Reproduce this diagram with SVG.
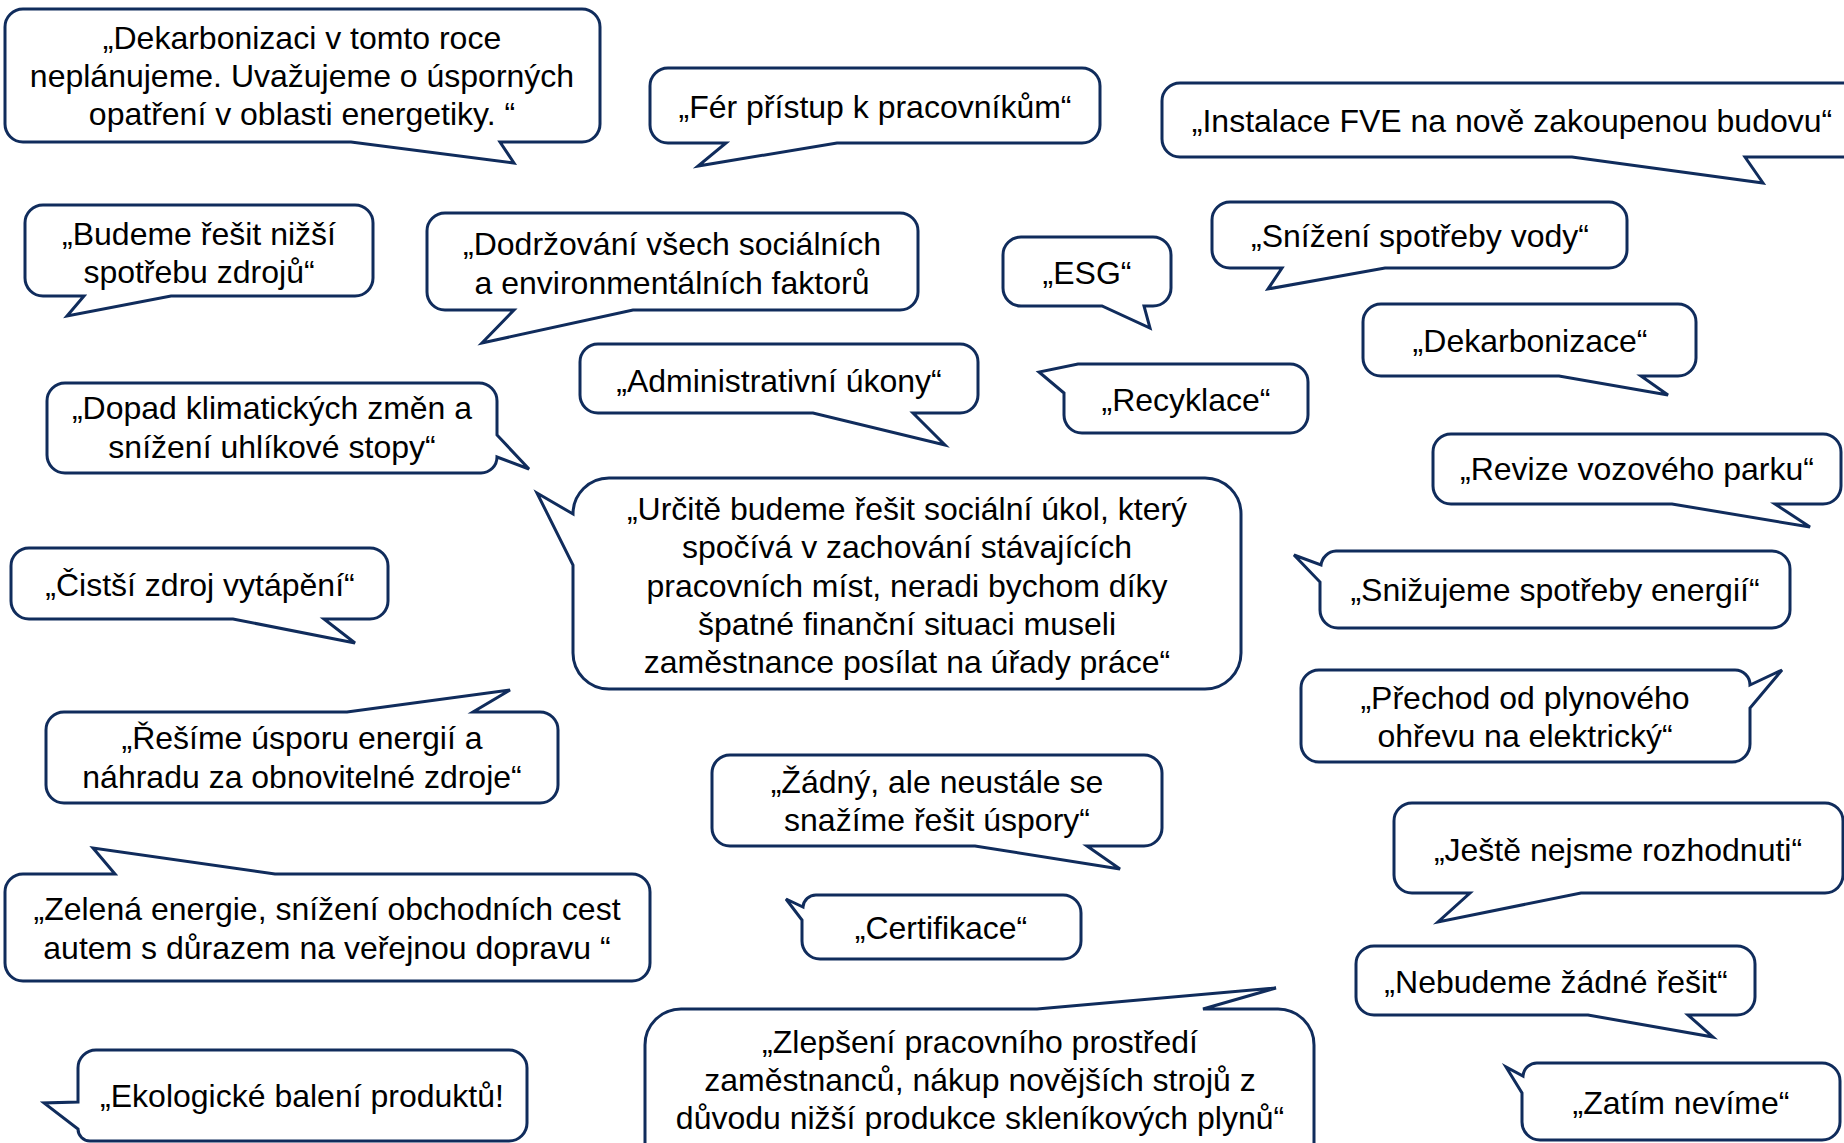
<svg xmlns="http://www.w3.org/2000/svg" width="1844" height="1143" viewBox="0 0 1844 1143">
<style>
.b{fill:#ffffff;stroke:#102c5c;stroke-width:3;stroke-linejoin:miter}
.t{font-family:"Liberation Sans",Arial,sans-serif;font-size:32px;fill:#000000;text-anchor:middle}
</style>
<rect width="1844" height="1143" fill="#ffffff"/>
<g id="connectors"/>
<g id="n-dekarbonizaci-roce"><path class="b" d="M 23,9 H 582 A 18 18 0 0 1 600,27 V 124 A 18 18 0 0 1 582,142 H 500 L 514,163 L 351,142 H 23 A 18 18 0 0 1 5,124 V 27 A 18 18 0 0 1 23,9 Z"/>
<text class="t" x="302" y="49">„Dekarbonizaci v tomto roce</text><text class="t" x="302" y="87">neplánujeme. Uvažujeme o úsporných</text><text class="t" x="302" y="125">opatření v oblasti energetiky. “</text></g>
<g id="n-budeme"><path class="b" d="M 43,205 H 355 A 18 18 0 0 1 373,223 V 278 A 18 18 0 0 1 355,296 H 171 L 67,316 L 84,296 H 43 A 18 18 0 0 1 25,278 V 223 A 18 18 0 0 1 43,205 Z"/>
<text class="t" x="199" y="245">„Budeme řešit nižší</text><text class="t" x="199" y="283">spotřebu zdrojů“</text></g>
<g id="n-dodrzovani"><path class="b" d="M 445,213 H 900 A 18 18 0 0 1 918,231 V 292 A 18 18 0 0 1 900,310 H 633 L 482,343 L 514,310 H 445 A 18 18 0 0 1 427,292 V 231 A 18 18 0 0 1 445,213 Z"/>
<text class="t" x="672" y="255">„Dodržování všech sociálních</text><text class="t" x="672" y="294">a environmentálních faktorů</text></g>
<g id="n-fer"><path class="b" d="M 668,68 H 1082 A 18 18 0 0 1 1100,86 V 125 A 18 18 0 0 1 1082,143 H 837 L 698,166 L 726,143 H 668 A 18 18 0 0 1 650,125 V 86 A 18 18 0 0 1 668,68 Z"/>
<text class="t" x="875" y="118">„Fér přístup k pracovníkům“</text></g>
<g id="n-esg"><path class="b" d="M 1021,237 H 1153 A 18 18 0 0 1 1171,255 V 288 A 18 18 0 0 1 1153,306 H 1144 L 1150,328 L 1102,306 H 1021 A 18 18 0 0 1 1003,288 V 255 A 18 18 0 0 1 1021,237 Z"/>
<text class="t" x="1087" y="284">„ESG“</text></g>
<g id="n-administrativni"><path class="b" d="M 598,344 H 960 A 18 18 0 0 1 978,362 V 395 A 18 18 0 0 1 960,413 H 913 L 945,445 L 813,413 H 598 A 18 18 0 0 1 580,395 V 362 A 18 18 0 0 1 598,344 Z"/>
<text class="t" x="779" y="392">„Administrativní úkony“</text></g>
<g id="n-recyklace"><path class="b" d="M 1078,364 H 1290 A 18 18 0 0 1 1308,382 V 415 A 18 18 0 0 1 1290,433 H 1082 A 18 18 0 0 1 1064,415 V 393 L 1039,372 Z"/>
<text class="t" x="1186" y="411">„Recyklace“</text></g>
<g id="n-urcite"><path class="b" d="M 609,478 H 1205 A 36 36 0 0 1 1241,514 V 653 A 36 36 0 0 1 1205,689 H 609 A 36 36 0 0 1 573,653 V 565 L 537,493 L 573,514 A 36 36 0 0 1 609,478 Z"/>
<text class="t" x="907" y="520">„Určitě budeme řešit sociální úkol, který</text><text class="t" x="907" y="558">spočívá v zachování stávajících</text><text class="t" x="907" y="597">pracovních míst, neradi bychom díky</text><text class="t" x="907" y="635">špatné finanční situaci museli</text><text class="t" x="907" y="673">zaměstnance posílat na úřady práce“</text></g>
<g id="n-instalace"><path class="b" d="M 1180,83 H 1870 V 157 H 1745 L 1763,183 L 1572,157 H 1180 A 18 18 0 0 1 1162,139 V 101 A 18 18 0 0 1 1180,83 Z"/>
<text class="t" x="1512" y="132">„Instalace FVE na nově zakoupenou budovu“</text></g>
<g id="n-voda"><path class="b" d="M 1230,202 H 1609 A 18 18 0 0 1 1627,220 V 250 A 18 18 0 0 1 1609,268 H 1385 L 1268,289 L 1282,268 H 1230 A 18 18 0 0 1 1212,250 V 220 A 18 18 0 0 1 1230,202 Z"/>
<text class="t" x="1420" y="247">„Snížení spotřeby vody“</text></g>
<g id="n-dekarbonizace"><path class="b" d="M 1381,304 H 1678 A 18 18 0 0 1 1696,322 V 358 A 18 18 0 0 1 1678,376 H 1641 L 1668,395 L 1559,376 H 1381 A 18 18 0 0 1 1363,358 V 322 A 18 18 0 0 1 1381,304 Z"/>
<text class="t" x="1530" y="352">„Dekarbonizace“</text></g>
<g id="n-revize"><path class="b" d="M 1451,434 H 1823 A 18 18 0 0 1 1841,452 V 486 A 18 18 0 0 1 1823,504 H 1775 L 1810,527 L 1672,504 H 1451 A 18 18 0 0 1 1433,486 V 452 A 18 18 0 0 1 1451,434 Z"/>
<text class="t" x="1637" y="480">„Revize vozového parku“</text></g>
<g id="n-snizujeme"><path class="b" d="M 1336,551 H 1772 A 18 18 0 0 1 1790,569 V 610 A 18 18 0 0 1 1772,628 H 1338 A 18 18 0 0 1 1320,610 V 582 L 1294,555 L 1321,565 A 16 16 0 0 1 1336,551 Z"/>
<text class="t" x="1555" y="601">„Snižujeme spotřeby energií“</text></g>
<g id="n-prechod"><path class="b" d="M 1319,670 H 1735 A 15 15 0 0 1 1750,685 L 1782,670 L 1750,708 V 744 A 18 18 0 0 1 1732,762 H 1319 A 18 18 0 0 1 1301,744 V 688 A 18 18 0 0 1 1319,670 Z"/>
<text class="t" x="1525" y="709">„Přechod od plynového</text><text class="t" x="1525" y="747">ohřevu na elektrický“</text></g>
<g id="n-dopad"><path class="b" d="M 65,383 H 479 A 18 18 0 0 1 497,401 V 435 L 529,469 L 497,457 A 16 16 0 0 1 481,473 H 65 A 18 18 0 0 1 47,455 V 401 A 18 18 0 0 1 65,383 Z"/>
<text class="t" x="272" y="419">„Dopad klimatických změn a</text><text class="t" x="272" y="458">snížení uhlíkové stopy“</text></g>
<g id="n-cistsi"><path class="b" d="M 29,548 H 370 A 18 18 0 0 1 388,566 V 601 A 18 18 0 0 1 370,619 H 324 L 355,643 L 233,619 H 29 A 18 18 0 0 1 11,601 V 566 A 18 18 0 0 1 29,548 Z"/>
<text class="t" x="200" y="596">„Čistší zdroj vytápění“</text></g>
<g id="n-resime"><path class="b" d="M 64,712 H 347 L 510,690 L 473,712 H 540 A 18 18 0 0 1 558,730 V 785 A 18 18 0 0 1 540,803 H 64 A 18 18 0 0 1 46,785 V 730 A 18 18 0 0 1 64,712 Z"/>
<text class="t" x="302" y="749">„Řešíme úsporu energií a</text><text class="t" x="302" y="788">náhradu za obnovitelné zdroje“</text></g>
<g id="n-zelena"><path class="b" d="M 23,874 H 115 L 93,848 L 275,874 H 632 A 18 18 0 0 1 650,892 V 963 A 18 18 0 0 1 632,981 H 23 A 18 18 0 0 1 5,963 V 892 A 18 18 0 0 1 23,874 Z"/>
<text class="t" x="327" y="920">„Zelená energie, snížení obchodních cest</text><text class="t" x="327" y="959">autem s důrazem na veřejnou dopravu “</text></g>
<g id="n-ekologicke"><path class="b" d="M 96,1050 H 509 A 18 18 0 0 1 527,1068 V 1123 A 18 18 0 0 1 509,1141 H 90 A 12 12 0 0 1 78,1129 L 44,1103 L 78,1102 V 1068 A 18 18 0 0 1 96,1050 Z"/>
<text class="t" x="302" y="1107">„Ekologické balení produktů!</text></g>
<g id="n-zadny"><path class="b" d="M 730,755 H 1144 A 18 18 0 0 1 1162,773 V 828 A 18 18 0 0 1 1144,846 H 1087 L 1120,869 L 975,846 H 730 A 18 18 0 0 1 712,828 V 773 A 18 18 0 0 1 730,755 Z"/>
<text class="t" x="937" y="793">„Žádný, ale neustále se</text><text class="t" x="937" y="831">snažíme řešit úspory“</text></g>
<g id="n-certifikace"><path class="b" d="M 816,895 H 1063 A 18 18 0 0 1 1081,913 V 941 A 18 18 0 0 1 1063,959 H 820 A 18 18 0 0 1 802,941 V 920 L 786,899 L 803,907 A 13 13 0 0 1 816,895 Z"/>
<text class="t" x="941" y="939">„Certifikace“</text></g>
<g id="n-zlepseni"><path class="b" d="M 681,1009 H 1037 L 1276,988 L 1203,1009 H 1278 A 36 36 0 0 1 1314,1045 V 1170 H 645 V 1045 A 36 36 0 0 1 681,1009 Z"/>
<text class="t" x="980" y="1053">„Zlepšení pracovního prostředí</text><text class="t" x="980" y="1091">zaměstnanců, nákup novějších strojů z</text><text class="t" x="980" y="1129">důvodu nižší produkce skleníkových plynů“</text></g>
<g id="n-jeste"><path class="b" d="M 1412,803 H 1825 A 18 18 0 0 1 1843,821 V 875 A 18 18 0 0 1 1825,893 H 1581 L 1438,922 L 1470,893 H 1412 A 18 18 0 0 1 1394,875 V 821 A 18 18 0 0 1 1412,803 Z"/>
<text class="t" x="1618" y="861">„Ještě nejsme rozhodnuti“</text></g>
<g id="n-nebudeme"><path class="b" d="M 1374,946 H 1737 A 18 18 0 0 1 1755,964 V 997 A 18 18 0 0 1 1737,1015 H 1688 L 1713,1037 L 1588,1015 H 1374 A 18 18 0 0 1 1356,997 V 964 A 18 18 0 0 1 1374,946 Z"/>
<text class="t" x="1556" y="993">„Nebudeme žádné řešit“</text></g>
<g id="n-zatim"><path class="b" d="M 1538,1063 H 1822 A 18 18 0 0 1 1840,1081 V 1122 A 18 18 0 0 1 1822,1140 H 1540 A 18 18 0 0 1 1522,1122 V 1093 L 1506,1067 L 1523,1076 A 14 14 0 0 1 1538,1063 Z"/>
<text class="t" x="1681" y="1114">„Zatím nevíme“</text></g>
</svg>
